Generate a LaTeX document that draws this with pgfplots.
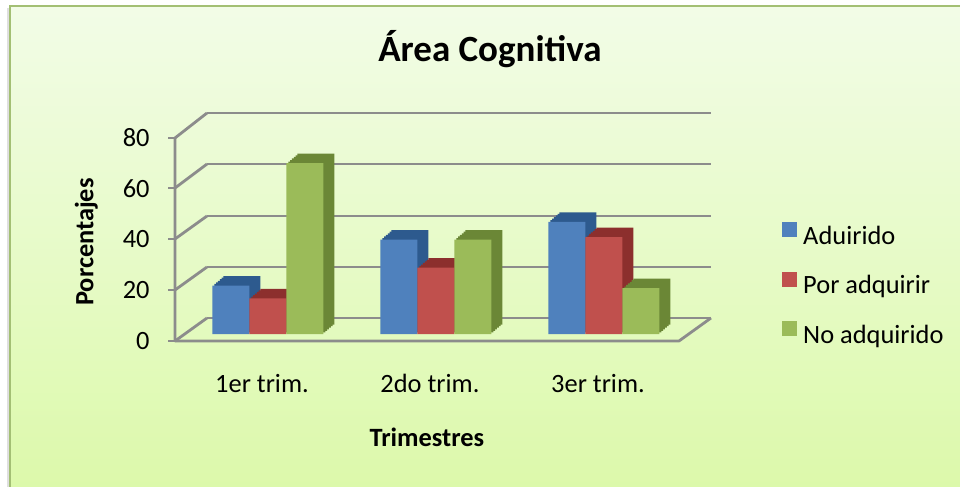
\documentclass[border=0pt]{standalone}
\usepackage{fontspec}
\setmainfont{Carlito}
\usepackage{pgfplots}
\usepackage{pgfplotstable}
\pgfplotsset{compat=1.18}
\definecolor{bF}{HTML}{4F81BD}\definecolor{bD}{HTML}{2D5A8E}
\definecolor{rF}{HTML}{C0504D}\definecolor{rD}{HTML}{8C2F2D}
\definecolor{gF}{HTML}{9BBB59}\definecolor{gD}{HTML}{6B8736}
\definecolor{gridc}{HTML}{8C8C8C}
\definecolor{bgtop}{HTML}{F2FCE7}
\definecolor{bgbot}{HTML}{DCF9AA}
\definecolor{framec}{HTML}{A3BF74}
\pgfplotstableread{
x a b c
0 19 14 67
1 37 26 37
2 44 38 18
}\datatable
\pgfplotsset{sqleg/.style={legend image code/.code={\fill[##1] (0pt,0pt) rectangle (7.5pt,7.5pt);}}}
\begin{document}
\begin{tikzpicture}
\begin{scope}[x=0.5pt,y=-0.5pt]
\path[use as bounding box] (0,0) rectangle (960,487);
\draw[gray!25, line width=1pt] (8,8) -- (8,490);
\shade[top color=bgtop, bottom color=bgbot] (10,6) rectangle (965,492);
\draw[framec, line width=1pt] (10,492) -- (10,6) -- (965,6);
\foreach \yb in {318,267,216,164,113} \draw[gridc, line width=1.4pt] (207,\yb) -- (711,\yb);
\foreach \yf/\yb in {341/318,290/267,239/216,188/164,138/113} {
  \draw[gridc, line width=1.4pt] (175,\yf) -- (207,\yb);
  \draw[gridc, line width=1.4pt] (168,\yf) -- (175,\yf);
}
\draw[gridc, line width=1.4pt, line join=round] (175,138) -- (175,341) -- (679,341) -- (711,318);
\end{scope}
\begin{axis}[
  at={(92pt,-167pt)}, anchor=south west,
  scale only axis, width=252pt, height=102pt,
  xmin=-0.5, xmax=2.5, ymin=0, ymax=80,
  clip=false,
  axis line style={draw=none},
  major tick length=0pt,
  xtick={0,1,2}, xticklabels={1er trim., 2do trim., 3er trim.},
  ytick={0,20,40,60,80},
  /pgf/number format/assume math mode=true,
  tick label style={font=\fontsize{13.2}{16}\selectfont, text=black},
  xticklabel style={anchor=base, inner sep=0pt, xshift=-3pt, yshift=-29pt},
  yticklabel style={anchor=east, inner sep=0pt, xshift=-17pt, yshift=-3.75pt},
  title={Área Cognitiva},
  title style={font=\bfseries\fontsize{18.5}{22}\selectfont, at={(axis description cs:0.607,1.338)}, anchor=center},
  xlabel={Trimestres},
  xlabel style={font=\bfseries\fontsize{13.2}{16}\selectfont, at={(axis description cs:0.482,-0.505)}, anchor=center},
  ylabel={Porcentajes},
  ylabel style={font=\bfseries\fontsize{13.2}{16}\selectfont, at={(axis description cs:-0.194,0.451)}, anchor=center},
  legend style={at={(axis description cs:1.187,0.549)}, anchor=north west, draw=none, fill=none, inner sep=0pt, outer sep=0pt, row sep=10.75pt, column sep=3pt, font=\fontsize{13.2}{16}\selectfont, nodes={inner sep=0pt, text height=10pt, text depth=3pt}},
  legend cell align=left,
]
\pgfplotsinvokeforeach{1,...,6}{
  \addplot[ybar, bar width=18.5pt, bar shift=-18.5pt, fill=bD, draw=none, forget plot, xshift=#1*0.9167pt, yshift=#1*0.7917pt] table[x=x,y=a]{\datatable};
}
\addplot[ybar, bar width=18.5pt, bar shift=-18.5pt, fill=bF, draw=none, sqleg] table[x=x,y=a]{\datatable};
\addlegendentry{Aduirido}
\pgfplotsinvokeforeach{1,...,6}{
  \addplot[ybar, bar width=18.5pt, bar shift=0pt, fill=rD, draw=none, forget plot, xshift=#1*0.9167pt, yshift=#1*0.7917pt] table[x=x,y=b]{\datatable};
}
\addplot[ybar, bar width=18.5pt, bar shift=0pt, fill=rF, draw=none, sqleg] table[x=x,y=b]{\datatable};
\addlegendentry{Por adquirir}
\pgfplotsinvokeforeach{1,...,6}{
  \addplot[ybar, bar width=18.5pt, bar shift=18.5pt, fill=gD, draw=none, forget plot, xshift=#1*0.9167pt, yshift=#1*0.7917pt] table[x=x,y=c]{\datatable};
}
\addplot[ybar, bar width=18.5pt, bar shift=18.5pt, fill=gF, draw=none, sqleg] table[x=x,y=c]{\datatable};
\addlegendentry{No adquirido}
\end{axis}
\end{tikzpicture}
\end{document}
